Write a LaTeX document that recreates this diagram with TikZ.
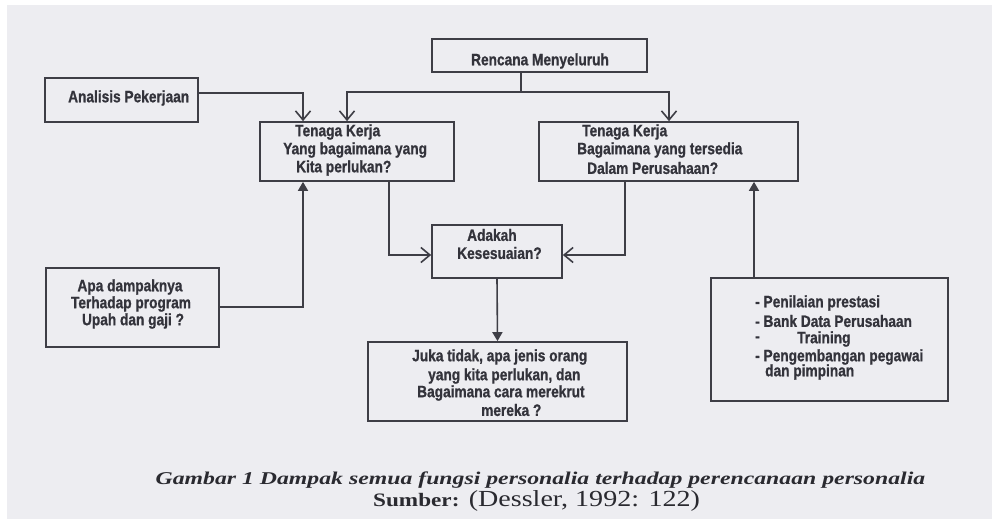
\documentclass[tikz,border=0pt]{standalone}
\usepackage{fontspec}
\usetikzlibrary{arrows.meta}
\newfontfamily\boxfont[FakeStretch=0.83,BoldFeatures={FakeBold=0.9}]{Liberation Sans}
\newfontfamily\capfont[FakeStretch=1.32]{Liberation Serif}
\newfontfamily\srcfont[FakeStretch=1.22]{Liberation Serif}
\definecolor{paper}{HTML}{EDEDF1}
\definecolor{ink}{HTML}{3E3E46}
\definecolor{txt}{HTML}{33333B}
\definecolor{captxt}{HTML}{2A2A30}
\begin{document}
\begin{tikzpicture}[x=1pt,y=-1pt,
  box/.style={draw=ink,line width=1.7pt,rectangle,inner sep=0pt},
  lbl/.style={inner sep=0pt,anchor=west,text=txt,
    font=\boxfont\bfseries\fontsize{16.5}{19}\selectfont},
  clbl/.style={lbl,anchor=center},
  conn/.style={draw=ink,line width=1.6pt},
  openarr/.style={conn,-{Straight Barb[length=9pt,width=15pt,line width=1.6pt]}},
  filledarr/.style={conn,-{Triangle[length=9pt,width=10pt]}}]
\useasboundingbox (0,0) rectangle (992,521);
\fill[white] (0,0) rectangle (992,521);
\fill[paper] (7,5) rectangle (992,519);

% boxes
\node[box,minimum width=215pt,minimum height=33pt] (rencana) at (539.5,55.5) {};
\node[box,minimum width=153pt,minimum height=44pt] (analisis) at (121.5,100) {};
\node[box,minimum width=194pt,minimum height=59pt] (tkA) at (357,151.5) {};
\node[box,minimum width=259pt,minimum height=59pt] (tkB) at (668.5,151.5) {};
\node[box,minimum width=130pt,minimum height=53pt] (adakah) at (497,251.5) {};
\node[box,minimum width=173pt,minimum height=79pt] (apa) at (132.5,307.5) {};
\node[box,minimum width=259pt,minimum height=79pt] (juka) at (497.5,381.5) {};
\node[box,minimum width=237pt,minimum height=123pt] (nilai) at (829.5,339.5) {};

% box texts
\node[clbl] (tRen) at (540,61) {Rencana Menyeluruh};
\node[lbl] (tAna) at (68,98) {Analisis Pekerjaan};
\node[lbl] (tA1) at (295,132) {Tenaga Kerja};
\node[lbl] (tA2) at (283,150) {Yang bagaimana yang};
\node[lbl] (tA3) at (296,168) {Kita perlukan?};
\node[lbl] (tB1) at (582,132) {Tenaga Kerja};
\node[lbl] (tB2) at (577,150) {Bagaimana yang tersedia};
\node[lbl] (tB3) at (587,168) {Dalam Perusahaan?};
\node[lbl] (tK1) at (467,235) {Adakah};
\node[lbl] (tK2) at (457,253) {Kesesuaian?};
\node[clbl] (tP1) at (130,287) {Apa dampaknya};
\node[clbl] (tP2) at (131,304) {Terhadap program};
\node[clbl] (tP3) at (133,321) {Upah dan gaji ?};
\node[lbl] (tJ1) at (412,357) {Juka tidak, apa jenis orang};
\node[lbl] (tJ2) at (428,376) {yang kita perlukan, dan};
\node[lbl] (tJ3) at (417,393) {Bagaimana cara merekrut};
\node[lbl] (tJ4) at (481,410) {mereka ?};
\node[lbl] (tN1) at (755,303) {- Penilaian prestasi};
\node[lbl] (tN2) at (755,321) {- Bank Data Perusahaan};
\node[lbl] (tN3) at (755,339) {-};
\node[lbl] (tN3b) at (797,339) {Training};
\node[lbl] (tN4) at (755,357) {- Pengembangan pegawai};
\node[lbl] (tN5) at (765,372) {dan pimpinan};

% turning points of the connectors
\coordinate (hub) at (521,92);
\coordinate (hubL) at (347,92);
\coordinate (hubR) at (669,92);
\coordinate (anaK) at (303,93);
\coordinate (apaK) at (303,307);
\coordinate (lK) at (389,255);
\coordinate (rK) at (625,255);
\coordinate (nK) at (754,0);

% connectors
\draw[conn] (rencana.south -| hub) -- (hub);
\draw[openarr] (hub) -- (hubL) -- (hubL |- tkA.north);
\draw[openarr] (hub) -- (hubR) -- (hubR |- tkB.north);
\draw[openarr] (analisis.east |- anaK) -- (anaK) -- (anaK |- tkA.north);
\draw[filledarr] (apa.east |- apaK) -- (apaK) -- (apaK |- tkA.south);
\draw[openarr] (lK |- tkA.south) -- (lK) -- (lK -| adakah.west);
\draw[openarr] (rK |- tkB.south) -- (rK) -- (rK -| adakah.east);
\draw[filledarr] (nilai.north -| nK) -- (nK |- tkB.south);
\draw[filledarr] (adakah.south) -- (juka.north);

% caption
\node[inner sep=0pt,anchor=base,text=captxt,font=\capfont\bfseries\itshape\fontsize{18}{21}\selectfont]
  (cap1) at (540.5,484) {Gambar 1 Dampak semua fungsi personalia terhadap perencanaan personalia};
\node[inner sep=0pt,anchor=base west,text=captxt,font=\srcfont\fontsize{23}{26}\selectfont]
  (cap2) at (373,506) {{\bfseries\fontsize{19}{22}\selectfont Sumber:} (Dessler, 1992: 122)};
\end{tikzpicture}
\end{document}
